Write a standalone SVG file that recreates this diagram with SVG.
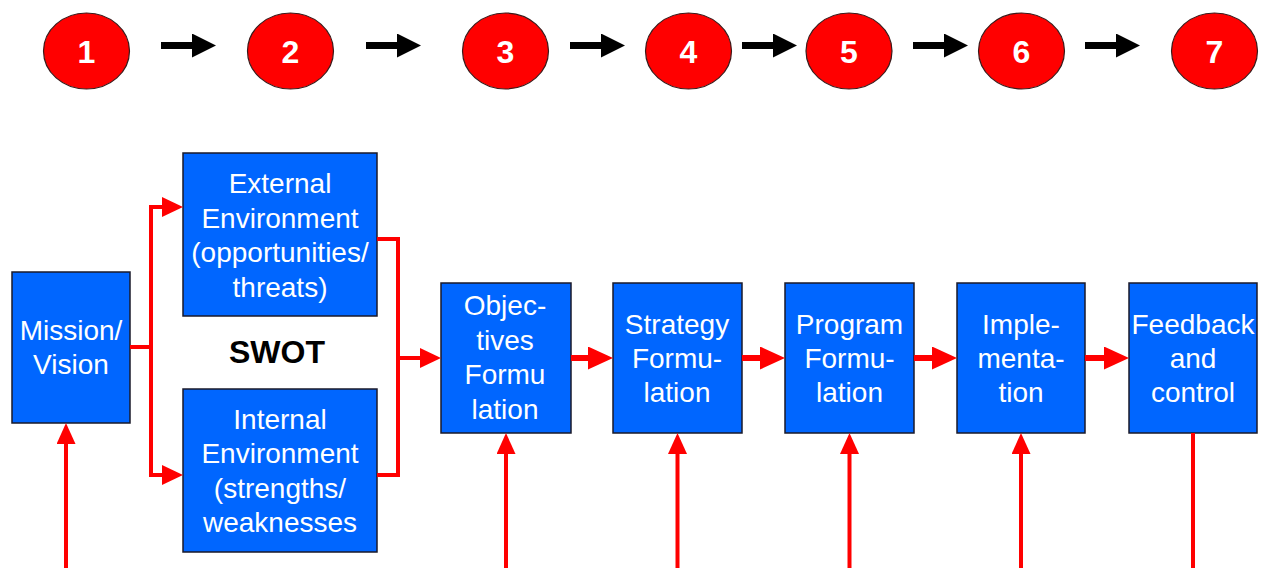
<svg xmlns="http://www.w3.org/2000/svg" width="1264" height="568" viewBox="0 0 1264 568">
  <style>
    .step { fill: #ff0000; stroke: #3a1a1a; stroke-width: 1.2; }
    .num { font-family: "Liberation Sans", Arial, sans-serif; font-weight: bold; font-size: 32px; fill: #ffffff; text-anchor: middle; }
    .box { fill: #0066ff; stroke: #1a1a2a; stroke-width: 1.5; }
    .lbl { font-family: "Liberation Sans", Arial, sans-serif; font-size: 28px; fill: #ffffff; text-anchor: middle; }
    .swot { font-family: "Liberation Sans", Arial, sans-serif; font-weight: bold; font-size: 32px; fill: #000000; text-anchor: middle; }
    .seq { fill: none; stroke: #000000; stroke-width: 7; }
    .flow { fill: none; stroke: #ff0000; stroke-width: 4; stroke-linejoin: miter; }
    .main { fill: none; stroke: #ff0000; stroke-width: 6; }
  </style>
  <defs>
    <marker id="headBlack" markerUnits="userSpaceOnUse" viewBox="0 0 24 24" markerWidth="24" markerHeight="24" refX="1" refY="12" orient="auto">
      <path d="M0,0 L24,12 L0,24 Z" fill="#000000"/>
    </marker>
    <marker id="headSmall" markerUnits="userSpaceOnUse" viewBox="0 0 21 20" markerWidth="21" markerHeight="20" refX="1" refY="10" orient="auto">
      <path d="M0,0 L21,10 L0,20 Z" fill="#ff0000"/>
    </marker>
    <marker id="headLarge" markerUnits="userSpaceOnUse" viewBox="0 0 25 23" markerWidth="25" markerHeight="23" refX="1" refY="11.5" orient="auto">
      <path d="M0,0 L25,11.5 L0,23 Z" fill="#ff0000"/>
    </marker>
    <marker id="headUp" markerUnits="userSpaceOnUse" viewBox="0 0 21 19" markerWidth="21" markerHeight="19" refX="1" refY="9.5" orient="auto">
      <path d="M0,0 L21,9.5 L0,19 Z" fill="#ff0000"/>
    </marker>
  </defs>

  <rect x="0" y="0" width="1264" height="568" fill="#ffffff"/>

  <!-- numbered step sequence -->
  <g id="step1"><ellipse class="step" cx="86.5" cy="51" rx="43" ry="38"/><text class="num" x="86.5" y="62.5">1</text></g>
  <g id="step2"><ellipse class="step" cx="290.5" cy="51" rx="43" ry="38"/><text class="num" x="290.5" y="62.5">2</text></g>
  <g id="step3"><ellipse class="step" cx="505.5" cy="51" rx="43" ry="38"/><text class="num" x="505.5" y="62.5">3</text></g>
  <g id="step4"><ellipse class="step" cx="688.5" cy="51" rx="43" ry="38"/><text class="num" x="688.5" y="62.5">4</text></g>
  <g id="step5"><ellipse class="step" cx="849" cy="51" rx="43" ry="38"/><text class="num" x="849" y="62.5">5</text></g>
  <g id="step6"><ellipse class="step" cx="1021.5" cy="51" rx="43" ry="38"/><text class="num" x="1021.5" y="62.5">6</text></g>
  <g id="step7"><ellipse class="step" cx="1214.5" cy="51" rx="43" ry="38"/><text class="num" x="1214.5" y="62.5">7</text></g>

  <!-- process boxes -->
  <g id="mission">
    <rect class="box" x="12" y="272" width="118" height="151"/>
    <text class="lbl" x="71" y="339.5">Mission/</text>
    <text class="lbl" x="71" y="374">Vision</text>
  </g>
  <g id="external">
    <rect class="box" x="183" y="153" width="194" height="163"/>
    <text class="lbl" x="280" y="193">External</text>
    <text class="lbl" x="280" y="227.5">Environment</text>
    <text class="lbl" x="280" y="262">(opportunities/</text>
    <text class="lbl" x="280" y="296.5">threats)</text>
  </g>
  <g id="internal">
    <rect class="box" x="183" y="389" width="194" height="163"/>
    <text class="lbl" x="280" y="428.5">Internal</text>
    <text class="lbl" x="280" y="463">Environment</text>
    <text class="lbl" x="280" y="497.5">(strengths/</text>
    <text class="lbl" x="280" y="532">weaknesses</text>
  </g>
  <g id="swot">
    <text class="swot" x="277" y="363">SWOT</text>
  </g>
  <g id="objectives">
    <rect class="box" x="441" y="283" width="130" height="150"/>
    <text class="lbl" x="505" y="315">Objec-</text>
    <text class="lbl" x="505" y="349.5">tives</text>
    <text class="lbl" x="505" y="384">Formu</text>
    <text class="lbl" x="505" y="418.5">lation</text>
  </g>
  <g id="strategy">
    <rect class="box" x="613" y="283" width="129" height="150"/>
    <text class="lbl" x="677" y="333.5">Strategy</text>
    <text class="lbl" x="677" y="368">Formu-</text>
    <text class="lbl" x="677" y="402">lation</text>
  </g>
  <g id="program">
    <rect class="box" x="785" y="283" width="129" height="150"/>
    <text class="lbl" x="849.5" y="333.5">Program</text>
    <text class="lbl" x="849.5" y="368">Formu-</text>
    <text class="lbl" x="849.5" y="402">lation</text>
  </g>
  <g id="implementation">
    <rect class="box" x="957" y="283" width="128" height="150"/>
    <text class="lbl" x="1021" y="333.5">Imple-</text>
    <text class="lbl" x="1021" y="368">menta-</text>
    <text class="lbl" x="1021" y="402">tion</text>
  </g>
  <g id="feedback">
    <rect class="box" x="1129" y="283" width="128" height="150"/>
    <text class="lbl" x="1193" y="333.5">Feedback</text>
    <text class="lbl" x="1193" y="368">and</text>
    <text class="lbl" x="1193" y="402">control</text>
  </g>

  <g id="connectors">
    <!-- sequence arrows -->
    <path class="seq" d="M161,45.5 H193" marker-end="url(#headBlack)"/>
    <path class="seq" d="M366,45.5 H398" marker-end="url(#headBlack)"/>
    <path class="seq" d="M570,45.5 H602" marker-end="url(#headBlack)"/>
    <path class="seq" d="M742,45.5 H774" marker-end="url(#headBlack)"/>
    <path class="seq" d="M913,45.5 H945" marker-end="url(#headBlack)"/>
    <path class="seq" d="M1085,45.5 H1117" marker-end="url(#headBlack)"/>

    <!-- mission splits into the two environment scans -->
    <path class="flow" d="M130,347 H151"/>
    <path class="flow" d="M151,347 V207 H163" marker-end="url(#headSmall)"/>
    <path class="flow" d="M151,347 V475 H163" marker-end="url(#headSmall)"/>

    <!-- scans merge into objectives -->
    <path class="flow" d="M377,239 H398 V475 H377"/>
    <path class="flow" d="M398,358 H421" marker-end="url(#headSmall)"/>

    <!-- main chain -->
    <path class="main" d="M571,358 H589" marker-end="url(#headLarge)"/>
    <path class="main" d="M742,358 H761" marker-end="url(#headLarge)"/>
    <path class="main" d="M914,358 H933" marker-end="url(#headLarge)"/>
    <path class="main" d="M1085,358 H1105" marker-end="url(#headLarge)"/>

    <!-- feedback lines from below -->
    <path class="flow" d="M66,568 V443" marker-end="url(#headUp)"/>
    <path class="flow" d="M506,568 V453" marker-end="url(#headUp)"/>
    <path class="flow" d="M677.5,568 V453" marker-end="url(#headUp)"/>
    <path class="flow" d="M849.5,568 V453" marker-end="url(#headUp)"/>
    <path class="flow" d="M1021,568 V453" marker-end="url(#headUp)"/>
    <path class="flow" d="M1193,433 V568"/>
  </g>
</svg>
